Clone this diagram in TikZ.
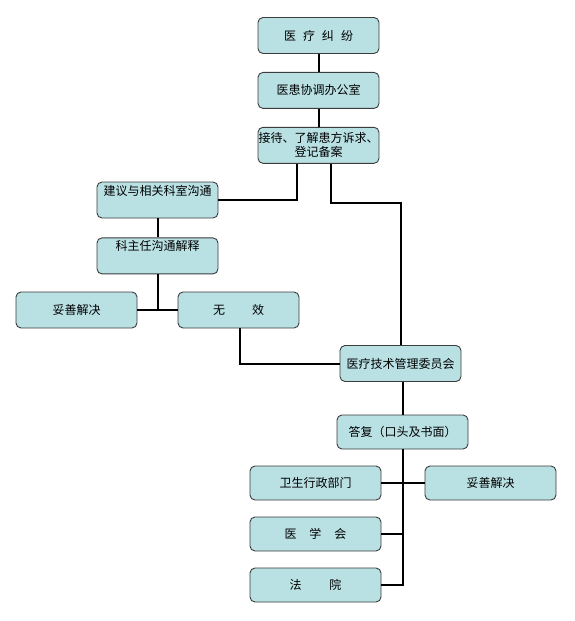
\documentclass[tikz,border=0pt]{standalone}
\usepackage{fontspec}
\newfontfamily\cjk{Noto Sans CJK SC}
\definecolor{kastenblau}{HTML}{B9E0E3}
\definecolor{rahmen}{HTML}{3C3C3C}
\usetikzlibrary{positioning}

\begin{document}
\begin{tikzpicture}[x=1pt, y=-1pt,
        node distance=18pt and 41pt,
        box/.style={rectangle, rounded corners=5pt, draw=rahmen, line width=0.9pt,
                    fill=kastenblau, minimum width=121pt, minimum height=36pt,
                    inner sep=2pt, align=center, font=\cjk\fontsize{12}{14}\selectfont},
        topbox/.style={box, text height=10pt, text depth=20pt},
        widebox/.style={box, minimum width=131pt, minimum height=34pt},
        ln/.style={line width=2pt}
      ]
      \useasboundingbox (0,0) rectangle (574,621);
      \node[box] (jiufen) at (318.5,35.5) {医\hspace{7pt}疗\hspace{7pt}纠\hspace{7pt}纷};
      \node[box, below=of jiufen]  (xietiao) {医患协调办公室};
      \node[box, inner xsep=0pt, below=of xietiao] (jiedai) {接待、了解患方诉求、\\登记备案};
      \node[topbox] (jianyi) at (157.5,200) {建议与相关科室沟通};
      \node[topbox, below=19pt of jianyi] (kezhuren) {科主任沟通解释};
      \node[box] (tuoshan) at (76.5,310) {妥善解决};
      \node[box] (wuxiao) at (238.5,310) {无\hspace{27pt}效};
      \node[box] (jishu) at (400.5,363.5) {医疗技术管理委员会};
      \node[widebox] (dafu) at (402.5,432) {答复（口头及书面）};
      \node[widebox] (weisheng) at (315.5,483) {卫生行政部门};
      \node[widebox] (tuoshanb) at (490.5,483) {妥善解决};
      \node[widebox] (yixuehui) at (315.5,534) {医\hspace{13pt}学\hspace{13pt}会};
      \node[widebox] (fayuan) at (315.5,585) {法\hspace{28pt}院};

      \draw[ln] (jiufen) -- (xietiao);
      \draw[ln] (xietiao) -- (jiedai);
      \draw[ln] ([xshift=-21.5pt]jiedai.south) |- (jianyi.east);
      \draw[ln] ([xshift=12.5pt]jiedai.south) -- ++(0,39) -| (jishu.north);
      \draw[ln] (jianyi) -- (kezhuren);
      \draw[ln] (kezhuren.south) -- (kezhuren.south |- tuoshan.east);
      \draw[ln] (tuoshan) -- (wuxiao);
      \draw[ln] ([xshift=1.5pt]wuxiao.south) |- (jishu.west);
      \draw[ln] (dafu.north) -- (dafu.north |- jishu.south);
      \draw[ln] (dafu.south) |- (fayuan.east);
      \draw[ln] (weisheng) -- (tuoshanb);
      \draw[ln] (yixuehui.east) -- (yixuehui.east -| dafu.south);
    \end{tikzpicture}
\end{document}
